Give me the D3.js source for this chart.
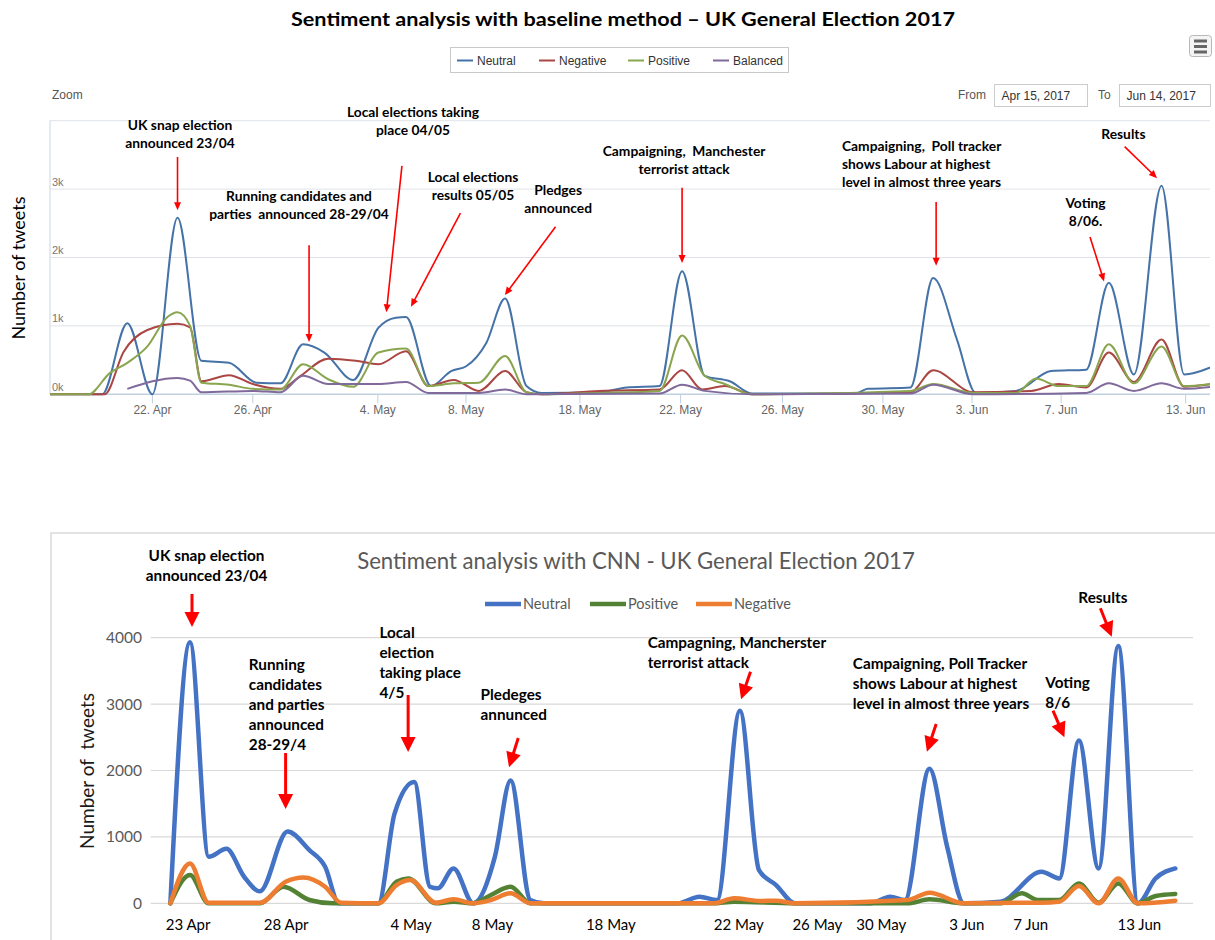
<!DOCTYPE html>
<html><head><meta charset="utf-8">
<script src="https://cdn.jsdelivr.net/npm/d3@7"></script>
<style>
body{margin:0;background:#fff;}
svg{display:block;}
text{white-space:pre;}
</style></head><body>
<svg id="c" width="1215" height="940"></svg>
<script>
// ---------------- DATA ----------------
// Top chart (baseline method). x = ordinal slot (22 Apr = 0), y = tweets
const topTickLabels = ["22. Apr","26. Apr","4. May","8. May","18. May","22. May","26. May","30. May","3. Jun","7. Jun","13. Jun"];
const topTickSlots  = [0, 4, 8.98, 12.49, 17.03, 21.04, 25.1, 29.1, 32.65, 36.2, 41.16];
const topYTicks  = [0, 1000, 2000, 3000, 4000];
const topYLabels = ["0k", "1k", "2k", "3k", ""];
const topSeriesNames = ["Neutral", "Negative", "Positive", "Balanced"];

const topNeutral = [[-4.1,0],[-2,0],[-1,1040],[0,0],[1,2580],[1.95,490],[3.05,460],[4.15,170],[5.1,160],[6,730],[6.85,610],[8,210],[9,970],[9.7,1120],[10.1,1130],[11.1,120],[11.9,340],[12.5,410],[13.3,750],[14.05,1400],[14.9,120],[15.5,20],[17.8,30],[18.9,100],[20.2,120],[21.1,1800],[22,270],[23,190],[23.9,10],[28,10],[28.5,80],[30.2,100],[31.1,1700],[32.05,800],[32.8,20],[34.4,50],[35.8,340],[37.2,360],[38.1,1630],[39.1,290],[40.2,3050],[41.1,290],[42.2,400]];
const topNegative = [[-4.1,0],[-1.9,0],[-1.15,620],[-0.2,940],[1,1030],[1.5,980],[1.95,190],[3.05,280],[4,150],[5.1,80],[5.9,270],[7,520],[8.1,490],[9,440],[10.1,630],[11,120],[12,210],[13,50],[14.05,340],[14.9,30],[15.5,0],[17.8,50],[20.2,70],[21.1,350],[21.9,70],[22.8,120],[23.9,0],[30.2,30],[31.1,350],[32.7,30],[35,50],[36.1,150],[37.2,100],[38.1,610],[39.1,180],[40.2,800],[41.1,110],[42.2,150]];
const topPositive = [[-4.1,0],[-2.55,0],[-1.7,310],[-1,460],[-0.2,700],[0.6,1130],[1,1200],[1.5,1000],[1.95,170],[3.05,140],[4,80],[5.1,70],[6,440],[7,220],[8,110],[9,610],[10.1,670],[11,120],[12,160],[13,170],[14.05,560],[14.9,30],[15.5,0],[17.8,20],[20.2,50],[21.1,860],[22,270],[22.8,150],[23.9,0],[30.2,50],[31.1,150],[32.7,20],[34.4,20],[35.2,230],[36.1,120],[37.2,120],[38.1,730],[39.1,160],[40.2,700],[41.1,120],[42.2,150]];
const topBalanced = [[-1,80],[1,240],[1.5,200],[1.95,30],[4,50],[5.1,30],[6,270],[7,150],[9,150],[10.1,180],[11,20],[13,20],[14.05,70],[14.9,0],[20.2,10],[21.1,140],[22,50],[23.9,0],[30.2,10],[31.1,140],[32.7,0],[37.2,20],[38.1,160],[39.1,50],[40.2,160],[41.1,80],[42.2,110]];

// Bottom chart (CNN). x = ordinal slot (23 Apr = 0), y = tweets
const botTickLabels = ["23 Apr","28 Apr","4 May","8 May","18 May","22 May","26 May","30 May","3 Jun","7 Jun","13 Jun"];
const botTickSlots  = [-0.1, 4.89, 11.24, 15.38, 21.4, 27.9, 31.9, 35.15, 39.5, 42.75, 48.27];
const botYTicks = [0, 1000, 2000, 3000, 4000];
const botSeriesNames = ["Neutral", "Positive", "Negative"];

const botNeutral = [[-1,0],[0,3930],[0.95,700],[1.85,820],[2.75,400],[3.55,180],[4.96,1080],[6.07,800],[6.87,550],[7.57,0],[9.58,0],[10.4,1350],[11.4,1825],[12.2,250],[12.6,225],[13.4,525],[14.4,0],[15.5,700],[16.3,1850],[17.3,50],[18,0],[24.8,0],[25.9,100],[26.8,50],[27.96,2900],[28.93,500],[29.8,275],[30.76,0],[34.6,0],[35.6,100],[36.35,50],[37.6,2025],[38.5,850],[39.35,0],[41.2,25],[43.3,475],[44.2,375],[45.2,2450],[46.2,525],[47.2,3875],[48.2,0],[49.1,375],[50.1,525]];
const botPositive = [[-1,0],[0,425],[0.94,0],[3.56,0],[4.75,250],[6.07,50],[7.27,0],[9.58,0],[10.5,325],[11.1,375],[12.5,0],[13.4,25],[14.4,0],[15.3,125],[16.3,250],[17.3,0],[26.6,0],[27.67,25],[30.76,0],[36.5,0],[37.6,60],[39.35,0],[41.2,0],[42.3,150],[43.1,50],[44.2,50],[45.2,300],[46.2,10],[47.2,300],[48.2,0],[49.1,110],[50.1,140]];
const botNegative = [[-1,0],[0,600],[0.94,10],[3.56,10],[4.86,325],[5.77,390],[6.87,250],[7.68,10],[9.58,0],[10.5,275],[11.2,350],[12.5,10],[13.4,60],[14.4,0],[15.3,50],[16.3,150],[17.3,0],[26.6,0],[27.67,75],[29,35],[29.8,40],[30.76,0],[36.5,50],[37.6,160],[39.35,0],[43.2,10],[44.2,25],[45.2,260],[46.2,0],[47.2,375],[48.2,0],[50.1,40]];

// Annotations (anchored in data coordinates)
const topNotes = [
  {lines:["UK snap election","announced 23/04"], anchor:"middle", at:[1.1,3870], arrow:[[1.0,3470],[1.0,2690]]},
  {lines:["Running candidates and","parties  announced 28-29/04"], anchor:"middle", at:[5.84,2820], arrow:[[6.24,2180],[6.24,765]]},
  {lines:["Local elections taking","place 04/05"], anchor:"middle", at:[10.38,4050], arrow:[[9.94,3340],[9.32,1200]]},
  {lines:["Local elections","results 05/05"], anchor:"middle", at:[12.77,3100], arrow:[[12.27,2650],[10.3,1280]]},
  {lines:["Pledges","announced"], anchor:"middle", at:[16.16,2910], arrow:[[16.06,2450],[14.04,1450]]},
  {lines:["Campaigning,  Manchester","terrorist attack"], anchor:"middle", at:[21.18,3480], arrow:[[21.1,3020],[21.1,1920]]},
  {lines:["Campaigning,  Poll tracker","shows Labour at highest","level in almost three years"], anchor:"start", at:[27.47,3550], arrow:[[31.22,2810],[31.22,1880]]},
  {lines:["Voting","8/06."], anchor:"middle", at:[37.17,2720], arrow:[[37.35,2300],[37.91,1650]]},
  {lines:["Results"], anchor:"middle", at:[38.68,3730], arrow:[[38.73,3620],[40.02,3160]]}
];
const botNotes = [
  {lines:["UK snap election","announced 23/04"], anchor:"middle", at:[0.84,5155], arrow:[[0.1,4658],[0.1,4161]]},
  {lines:["Running","candidates","and parties","announced","28-29/4"], anchor:"start", at:[2.99,3513], arrow:[[4.86,2263],[4.86,1420]]},
  {lines:["Local","election","taking place","4/5"], anchor:"start", at:[9.63,3995], arrow:[[11.09,3137],[11.09,2279]]},
  {lines:["Pledeges","annunced"], anchor:"start", at:[14.77,3062], arrow:[[16.69,2489],[16.22,2048]]},
  {lines:["Campagning, Mancherster","terrorist attack"], anchor:"start", at:[23.27,3845], arrow:[[28.5,3488],[28.02,3072]]},
  {lines:["Campaigning, Poll Tracker","shows Labour at highest","level in almost three years"], anchor:"start", at:[33.7,3529], arrow:[[37.94,2700],[37.47,2283]]},
  {lines:["Voting","8/6"], anchor:"start", at:[43.49,3247], arrow:[[43.88,2901],[44.46,2500]]},
  {lines:["Results"], anchor:"start", at:[45.17,4518], arrow:[[46.29,4443],[46.87,4015]]}
];

// ---------------- DRAW ----------------
const svg = d3.select("#c");
const HC = "'Liberation Sans', Arial, sans-serif";
const CAL = "Lato, 'Noto Sans', sans-serif";

function arrow(g, x1, y1, x2, y2, w, hl, hw, color) {
  const dx = x2 - x1, dy = y2 - y1, L = Math.hypot(dx, dy);
  const ux = dx / L, uy = dy / L, px = -uy, py = ux;
  const bx = x2 - ux * hl, by = y2 - uy * hl;
  g.append("line").attr("x1", x1).attr("y1", y1).attr("x2", bx + ux * 1).attr("y2", by + uy * 1)
    .attr("stroke", color).attr("stroke-width", w);
  g.append("path").attr("d", `M${x2},${y2}L${bx + px * hw / 2},${by + py * hw / 2}L${bx - px * hw / 2},${by - py * hw / 2}Z`)
    .attr("fill", color);
}
function notes(g, list, x, y, size, lh, aw, ahl, ahw) {
  list.forEach(n => {
    const t = g.append("text").attr("x", x(n.at[0])).attr("y", y(n.at[1]))
      .attr("text-anchor", n.anchor).attr("font-family", CAL).attr("font-weight", "bold")
      .attr("font-size", size).attr("fill", "#000");
    n.lines.forEach((l, i) => t.append("tspan").attr("x", x(n.at[0])).attr("dy", i ? lh : 0).text(l));
    arrow(g, x(n.arrow[0][0]), y(n.arrow[0][1]), x(n.arrow[1][0]), y(n.arrow[1][1]), aw, ahl, ahw, "#ff0000");
  });
}

// ===== TOP CHART =====
const gTop = svg.append("g");
gTop.append("text").attr("x", 623).attr("y", 26).attr("text-anchor", "middle")
  .attr("font-family", CAL).attr("font-weight", "bold").attr("font-size", 19.5).attr("fill", "#000")
  .attr("textLength", 664).attr("lengthAdjust", "spacingAndGlyphs")
  .text("Sentiment analysis with baseline method \u2013 UK General Election 2017");

// export menu button
const mb = gTop.append("g");
mb.append("rect").attr("x", 1189.5).attr("y", 35.5).attr("width", 22).attr("height", 21).attr("rx", 3)
  .attr("fill", "#f4f4f4").attr("stroke", "#b8b8b8");
[41, 46.5, 52].forEach(yy => mb.append("line").attr("x1", 1194).attr("x2", 1207).attr("y1", yy).attr("y2", yy)
  .attr("stroke", "#666").attr("stroke-width", 3));

const xT = d3.scaleLinear().domain([-4.08, 42.13]).range([50, 1210]);
const yT = d3.scaleLinear().domain([0, 4000]).range([394.3, 120.7]);
const topColors = ["#4572A7", "#AA4643", "#89A54E", "#80699B"];

// legend
const lg = gTop.append("g");
lg.append("rect").attr("x", 450.5).attr("y", 47.5).attr("width", 338).attr("height", 25)
  .attr("fill", "#fff").attr("stroke", "#c9c9c9");
const legX = [457, 539, 628, 713];
topSeriesNames.forEach((nm, i) => {
  lg.append("line").attr("x1", legX[i]).attr("x2", legX[i] + 16).attr("y1", 60.5).attr("y2", 60.5)
    .attr("stroke", topColors[i]).attr("stroke-width", 2);
  lg.append("text").attr("x", legX[i] + 20).attr("y", 64.5).attr("font-family", HC).attr("font-size", 12)
    .attr("fill", "#333").text(nm);
});

// range selector
gTop.append("text").attr("x", 52).attr("y", 99).attr("font-family", HC).attr("font-size", 12).attr("fill", "#555").text("Zoom");
gTop.append("text").attr("x", 958).attr("y", 99).attr("font-family", HC).attr("font-size", 12).attr("fill", "#555").text("From");
gTop.append("text").attr("x", 1098).attr("y", 99).attr("font-family", HC).attr("font-size", 12).attr("fill", "#555").text("To");
[[994.5, 93, "Apr 15, 2017"], [1119.5, 91, "Jun 14, 2017"]].forEach(b => {
  gTop.append("rect").attr("x", b[0]).attr("y", 84.5).attr("width", b[1]).attr("height", 22)
    .attr("fill", "#fff").attr("stroke", "#cccccc");
  gTop.append("text").attr("x", b[0] + 7).attr("y", 99.5).attr("font-family", HC).attr("font-size", 12)
    .attr("fill", "#333").text(b[2]);
});

// grid + y labels
topYTicks.forEach((v, i) => {
  gTop.append("line").attr("x1", 50).attr("x2", 1210).attr("y1", yT(v)).attr("y2", yT(v))
    .attr("stroke", i === 0 ? "#c0d0e0" : "#dfe3e8").attr("stroke-width", i === 0 ? 1.5 : 1);
  if (topYLabels[i]) gTop.append("text").attr("x", 52).attr("y", yT(v) - 3.5).attr("font-family", HC)
    .attr("font-size", 11).attr("fill", "#777").text(topYLabels[i]);
});
gTop.append("line").attr("x1", 50).attr("x2", 50).attr("y1", yT(4000)).attr("y2", yT(0)).attr("stroke", "#c8d6e6");
// x ticks
topTickSlots.forEach((s, i) => {
  gTop.append("line").attr("x1", xT(s)).attr("x2", xT(s)).attr("y1", yT(0)).attr("y2", yT(0) + 9).attr("stroke", "#c0d0e0");
  gTop.append("text").attr("x", xT(s)).attr("y", 414).attr("text-anchor", "middle").attr("font-family", HC)
    .attr("font-size", 12).attr("fill", "#666").text(topTickLabels[i]);
});
// y title
gTop.append("text").attr("transform", "translate(25,268) rotate(-90)").attr("text-anchor", "middle")
  .attr("font-family", CAL).attr("font-size", 18).attr("fill", "#000").text("Number of tweets");

// lines
gTop.append("clipPath").attr("id", "cpT").append("rect").attr("x", 50).attr("y", 110).attr("width", 1160).attr("height", 290);
const lineT = d3.line().x(d => xT(d[0])).y(d => yT(d[1])).curve(d3.curveMonotoneX);
const tg = gTop.append("g").attr("clip-path", "url(#cpT)");
[topNeutral, topNegative, topPositive, topBalanced].forEach((s, i) => {
  tg.append("path").attr("d", lineT(s)).attr("fill", "none").attr("stroke", topColors[i])
    .attr("stroke-width", 2).attr("stroke-linejoin", "round");
});
notes(gTop.append("g"), topNotes, xT, yT, 13.8, 18, 1.6, 8, 7);

// ===== BOTTOM CHART =====
const gBot = svg.append("g");
gBot.append("rect").attr("x", 51).attr("y", 533).attr("width", 1200).attr("height", 500)
  .attr("fill", "#fff").attr("stroke", "#d9d9d9").attr("stroke-width", 1.5);
gBot.append("text").attr("x", 636).attr("y", 569).attr("text-anchor", "middle").attr("font-family", CAL)
  .attr("font-size", 22.2).attr("fill", "#595959").text("Sentiment analysis with CNN - UK General Election 2017");

const xB = d3.scaleLinear().domain([-2, 51]).range([150.7, 1193]);
const yB = d3.scaleLinear().domain([0, 4000]).range([903.3, 637.7]);
const botColors = ["#4472C4", "#548235", "#ED7D31"];

// legend
const bl = [485, 590, 696];
botSeriesNames.forEach((nm, i) => {
  gBot.append("line").attr("x1", bl[i]).attr("x2", bl[i] + 36).attr("y1", 604).attr("y2", 604)
    .attr("stroke", botColors[i]).attr("stroke-width", 4.5);
  gBot.append("text").attr("x", bl[i] + 38).attr("y", 609).attr("font-family", CAL).attr("font-size", 14.5)
    .attr("fill", "#595959").text(nm);
});

botYTicks.forEach(v => {
  gBot.append("line").attr("x1", 150.7).attr("x2", 1193).attr("y1", yB(v)).attr("y2", yB(v))
    .attr("stroke", "#d9d9d9").attr("stroke-width", 1.2);
  gBot.append("text").attr("x", 142).attr("y", yB(v) + 5.5).attr("text-anchor", "end").attr("font-family", CAL)
    .attr("font-size", 15.5).attr("fill", "#595959").text(v);
});
botTickSlots.forEach((s, i) => {
  gBot.append("text").attr("x", xB(s)).attr("y", 930).attr("text-anchor", "middle").attr("font-family", CAL)
    .attr("font-size", 15).attr("fill", "#000").text(botTickLabels[i]);
});
gBot.append("text").attr("transform", "translate(94,771) rotate(-90)").attr("text-anchor", "middle")
  .attr("font-family", CAL).attr("font-size", 19).attr("fill", "#1a1a1a").text("Number of  tweets");

const lineB = d3.line().x(d => xB(d[0])).y(d => yB(d[1])).curve(d3.curveMonotoneX);
[botNeutral, botPositive, botNegative].forEach((s, i) => {
  gBot.append("path").attr("d", lineB(s)).attr("fill", "none").attr("stroke", botColors[i])
    .attr("stroke-width", 4.5).attr("stroke-linejoin", "round").attr("stroke-linecap", "round");
});
notes(gBot.append("g"), botNotes, xB, yB, 15.3, 20, 3, 15, 15);
</script>
</body></html>
